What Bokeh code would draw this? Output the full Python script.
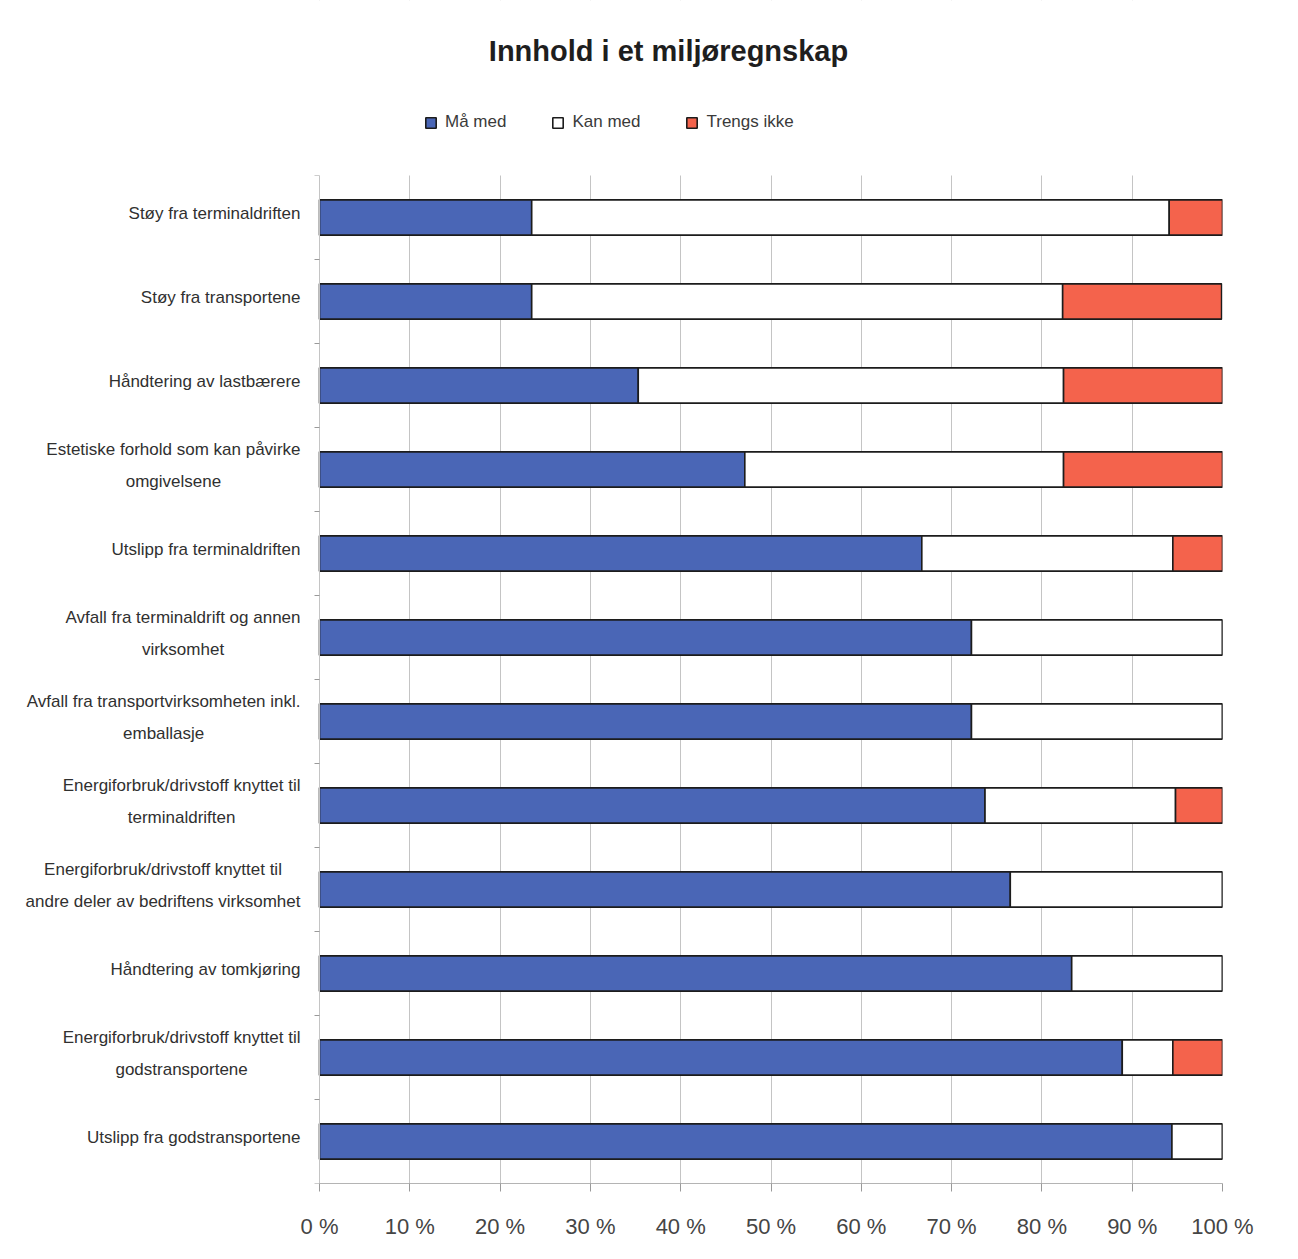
from bokeh.plotting import figure
from bokeh.models import (Range1d, FixedTicker, Legend, LegendItem, ColumnDataSource, Label,
                          BoxAnnotation)
from bokeh.core.properties import value
from bokeh.embed import file_html
from bokeh.resources import INLINE

# ---------------- data ----------------
categories = [
    "Støy fra terminaldriften",
    "Støy fra transportene",
    "Håndtering av lastbærere",
    "Estetiske forhold som kan påvirke\nomgivelsene",
    "Utslipp fra terminaldriften",
    "Avfall fra terminaldrift og annen\nvirksomhet",
    "Avfall fra transportvirksomheten inkl.\nemballasje",
    "Energiforbruk/drivstoff knyttet til\nterminaldriften",
    "Energiforbruk/drivstoff knyttet til\nandre deler av bedriftens virksomhet",
    "Håndtering av tomkjøring",
    "Energiforbruk/drivstoff knyttet til\ngodstransportene",
    "Utslipp fra godstransportene",
]
ma_med = [23.5, 23.5, 35.3, 47.1, 66.7, 72.2, 72.2, 73.7, 76.5, 83.3, 88.9, 94.4]
kan_med = [70.6, 58.8, 47.1, 35.3, 27.8, 27.8, 27.8, 21.1, 23.5, 16.7, 5.6, 5.6]
trengs_ikke = [5.9, 17.6, 17.6, 17.6, 5.6, 0.0, 0.0, 5.3, 0.0, 0.0, 5.6, 0.0]
series_names = ["Må med", "Kan med", "Trengs ikke"]
x_ticks = [0, 10, 20, 30, 40, 50, 60, 70, 80, 90, 100]
x_tick_labels = ["0 %", "10 %", "20 %", "30 %", "40 %", "50 %", "60 %", "70 %", "80 %", "90 %", "100 %"]
title_text = "Innhold i et miljøregnskap"

# ---------------- style ----------------
FONT = "Liberation Sans"
COLORS = ["#4a66b6", "#ffffff", "#f4634c"]
W, H = 1298, 1259
PL, PR, PT, PB = 319, 1222, 175, 1183      # plot area in page pixels
n = len(categories)
PXX = (PR - PL) / 100.0                      # px per percent
PXY = (PB - PT) / n                          # px per category


def px_x(px):
    return (px - PL) / PXX


def px_y(py):
    return (PB - py) / PXY


p = figure(width=W, height=H, output_backend="svg", toolbar_location=None,
           x_range=Range1d(px_x(0), 100), y_range=Range1d(0, px_y(0)), title=None,
           min_border_left=0, min_border_right=W - PR,
           min_border_top=0, min_border_bottom=H - PB)
p.outline_line_color = None
p.background_fill_color = "white"
p.border_fill_color = "white"

ys = [n - i - 0.5 for i in range(n)]
src = ColumnDataSource(dict(y=ys, **{series_names[0]: ma_med, series_names[1]: kan_med,
                                     series_names[2]: trengs_ikke}))
renderers = p.hbar_stack(series_names, y="y", height=0.42, color=COLORS, source=src,
                         line_color="#1c1c1c", line_width=1.6)

# grid (vertical lines only inside the plot area)
p.xgrid.ticker = FixedTicker(ticks=x_ticks)
p.xgrid.grid_line_color = "#c4c4c4"
p.xgrid.grid_line_width = 1
p.ygrid.grid_line_color = None
p.add_layout(BoxAnnotation(bottom=n, fill_color="white", fill_alpha=1.0, line_alpha=0))

# x axis
xa = p.xaxis[0]
xa.bounds = (0, 100)
xa.ticker = FixedTicker(ticks=x_ticks)
xa.major_label_overrides = {t: l for t, l in zip(x_ticks, x_tick_labels)}
xa.major_label_text_font = FONT
xa.major_label_text_font_size = "22px"
xa.major_label_text_color = "#454545"
xa.major_label_standoff = 22
xa.axis_line_color = "#b4b4b4"
xa.major_tick_line_color = "#9a9a9a"
xa.major_tick_out = 8
xa.major_tick_in = 0
xa.minor_tick_line_color = None

# y axis at x = 0 with small ticks at category boundaries (no labels)
ya = p.yaxis[0]
ya.fixed_location = 0
ya.bounds = (0, n)
ya.ticker = FixedTicker(ticks=[], minor_ticks=list(range(n + 1)))
ya.axis_line_color = "#c4c4c4"
ya.major_tick_line_color = None
ya.minor_tick_line_color = "#9a9a9a"
ya.minor_tick_out = 5
ya.minor_tick_in = 0

# category labels: right edge at 300 px, lines centred on each other
lab_src = ColumnDataSource(dict(x=[px_x(300)] * n, y=ys, text=categories))
p.text(x="x", y="y", text="text", source=lab_src, anchor="center_right", text_align="center",
       text_baseline="middle", y_offset=-4, text_font=value(FONT), text_font_size="17px",
       text_line_height=1.7, text_color="#303030")

# title
p.add_layout(Label(x=px_x(668), y=px_y(50), text=title_text, text_align="center",
                   text_baseline="middle", text_font=FONT, text_font_size="29px",
                   text_font_style="bold", text_color="#1e1e1e"))

# legend
legend = Legend(items=[LegendItem(label=nm, renderers=[r]) for nm, r in zip(series_names, renderers)],
                orientation="horizontal", location=(424, PB - 132),
                glyph_width=13, glyph_height=13, label_standoff=8, spacing=45,
                padding=0, margin=0, border_line_color=None, background_fill_alpha=0,
                label_text_font=FONT, label_text_font_size="17px", label_text_color="#3a3a3a")
p.add_layout(legend)

open("out.html", "w").write(file_html(p, INLINE))
